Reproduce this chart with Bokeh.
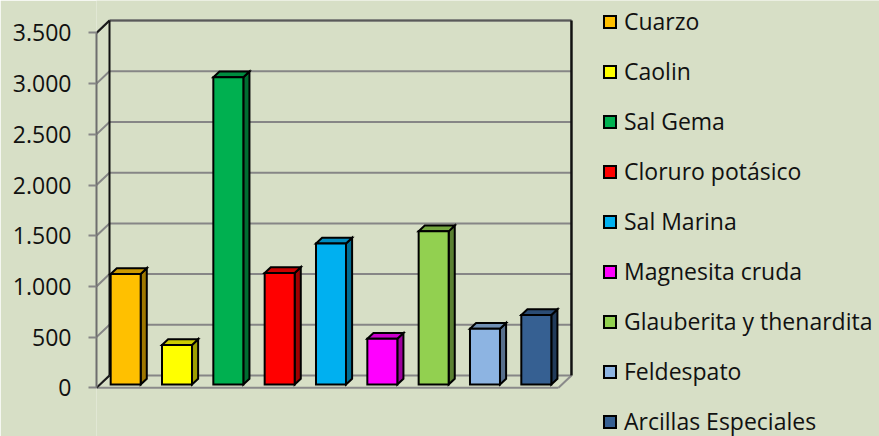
from bokeh.plotting import figure
from bokeh.models import Range1d, FixedTicker, Legend, LegendItem, ColumnDataSource
from bokeh.embed import file_html
from bokeh.resources import INLINE

# ---- data ----
categories = ["Cuarzo", "Caolin", "Sal Gema", "Cloruro potásico", "Sal Marina",
              "Magnesita cruda", "Glauberita y thenardita", "Feldespato",
              "Arcillas Especiales"]
values = [1090, 390, 3030, 1100, 1390, 450, 1510, 550, 685]
colors = ["#FFC000", "#FFFF00", "#00B050", "#FF0000", "#00B0F0",
          "#FF00FF", "#92D050", "#8DB4E2", "#366092"]
y_ticks = [0, 500, 1000, 1500, 2000, 2500, 3000, 3500]
y_tick_labels = ["0", "500", "1.000", "1.500", "2.000", "2.500", "3.000", "3.500"]

# ---- style / geometry ----
BG = "#D7DFC6"
FONT = "Open Sans"
W, H = 879, 436
FRAME_LEFT = 96
ZERO_Y = 387.3          # pixel row of value 0 on the front plane
PX_PER_CAT = 51.33
PX_PER_UNIT = 0.1014
DEPTH_X = 13.0 / PX_PER_CAT
DEPTH_Y = 12.3 / PX_PER_UNIT
BAR_FRONT = 0.27
BAR_BACK = 0.74
BAR_HALF = 15.0 / PX_PER_CAT


def shade(hexc, k):
    r, g, b = (int(hexc[i:i + 2], 16) for i in (1, 3, 5))
    return "#%02X%02X%02X" % (int(r * k), int(g * k), int(b * k))


n = len(categories)
x_range = Range1d(0, (W - FRAME_LEFT) / PX_PER_CAT)
y_range = Range1d((ZERO_Y - H) / PX_PER_UNIT, ZERO_Y / PX_PER_UNIT)

p = figure(width=W, height=H, x_range=x_range, y_range=y_range,
           output_backend="svg", toolbar_location=None, x_axis_location=None,
           min_border_left=FRAME_LEFT, min_border_top=0, min_border_bottom=0,
           min_border_right=0, background_fill_color=BG,
           border_fill_color=BG, outline_line_color=None)
p.grid.visible = False

# back wall and floor
ymax = y_ticks[-1]
bx0, bx1 = DEPTH_X, n + DEPTH_X
grid_t = list(y_ticks)
p.segment(x0=[bx0] * len(grid_t), y0=[t + DEPTH_Y for t in grid_t],
          x1=[bx1] * len(grid_t), y1=[t + DEPTH_Y for t in grid_t],
          line_color="#868686", line_width=2)
p.segment(x0=[0] * len(grid_t), y0=grid_t,
          x1=[bx0] * len(grid_t), y1=[t + DEPTH_Y for t in grid_t],
          line_color="#868686", line_width=2)
p.segment(x0=[0, n], y0=[0, 0], x1=[n, n + DEPTH_X], y1=[0, DEPTH_Y],
          line_color="#8A8A8A", line_width=2)
p.segment(x0=[0, 0], y0=[ymax, 0], x1=[bx0, bx0], y1=[ymax + DEPTH_Y, DEPTH_Y],
          line_color="#1A1A1A", line_width=2)
p.segment(x0=[bx0], y0=[ymax + DEPTH_Y], x1=[bx1], y1=[ymax + DEPTH_Y],
          line_color="#5A5A5A", line_width=2)
p.segment(x0=[bx0, bx1], y0=[DEPTH_Y, DEPTH_Y], x1=[bx0, bx1],
          y1=[ymax + DEPTH_Y, ymax + DEPTH_Y],
          line_color="#111111", line_width=[2, 2.5])

# bars
fx = [i + 0.5 + BAR_FRONT * DEPTH_X for i in range(n)]
fb = BAR_FRONT * DEPTH_Y
left = [x - BAR_HALF for x in fx]
right = [x + BAR_HALF for x in fx]
top = [v + fb for v in values]
ddx = (BAR_BACK - BAR_FRONT) * DEPTH_X
ddy = (BAR_BACK - BAR_FRONT) * DEPTH_Y

side_xs = [[r, r + ddx, r + ddx, r] for r in right]
side_ys = [[fb, fb + ddy, t + ddy, t] for t in top]
top_xs = [[l, r, r + ddx, l + ddx] for l, r in zip(left, right)]
top_ys = [[t, t, t + ddy, t + ddy] for t in top]

p.patches(xs=side_xs, ys=side_ys, fill_color=[shade(c, 0.62) for c in colors],
          line_color="#000000", line_width=2, line_join="miter")
p.patches(xs=top_xs, ys=top_ys, fill_color=[shade(c, 0.8) for c in colors],
          line_color="#000000", line_width=2, line_join="miter")
src = ColumnDataSource(dict(left=left, right=right, bottom=[fb] * n, top=top,
                            color=colors, cat=categories))
front = p.quad(left="left", right="right", bottom="bottom", top="top",
               fill_color="color", line_color="#000000", line_width=2,
               line_join="miter", source=src)

# y axis
ax = p.yaxis[0]
ax.ticker = FixedTicker(ticks=y_ticks)
ax.major_label_overrides = {t: s for t, s in zip(y_ticks, y_tick_labels)}
ax.bounds = (0, ymax)
ax.axis_line_color = "#6E6E6E"
ax.axis_line_width = 2
ax.major_tick_line_color = "#868686"
ax.major_tick_line_width = 2
ax.major_tick_out = 8
ax.major_tick_in = 0
ax.minor_tick_line_color = None
ax.major_label_text_font = FONT
ax.major_label_text_font_size = "23px"
ax.major_label_text_color = "#111111"
ax.major_label_standoff = 17

# legend
items = [LegendItem(label=c, renderers=[front], index=i) for i, c in enumerate(categories)]
legend = Legend(items=items, location=(506, -2), orientation="vertical",
                glyph_width=15, glyph_height=15, label_standoff=7,
                label_height=34, spacing=16, padding=0, margin=0,
                border_line_color=None, background_fill_alpha=0,
                label_text_font=FONT, label_text_font_size="23px",
                label_text_color="#111111")
p.add_layout(legend)

open("out.html", "w").write(file_html(p, INLINE))
